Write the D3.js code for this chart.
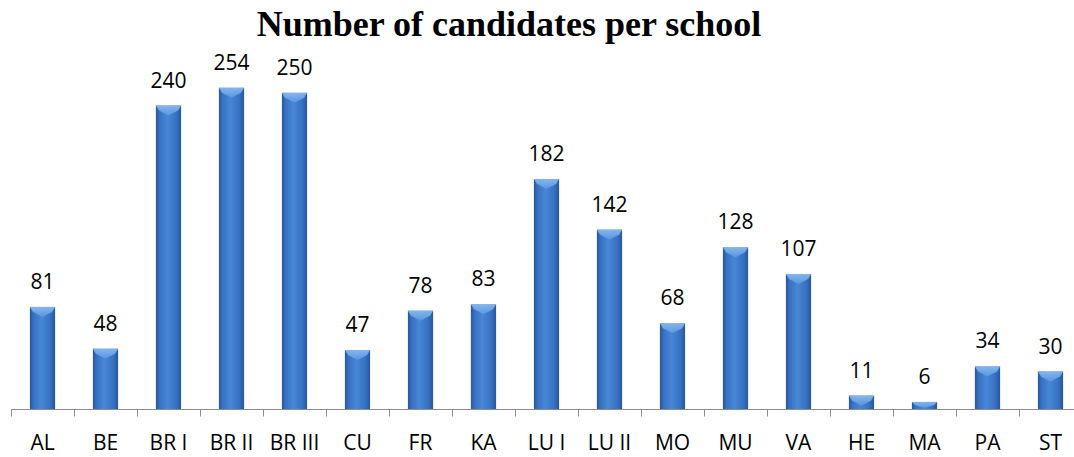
<!DOCTYPE html>
<head>
  <meta charset="utf-8">
  <script src="https://d3js.org/d3.v7.min.js"></script>
  <style>
    body { margin: 0; background: #fff; }
    .title { font-family: "Liberation Serif", "Times New Roman", serif; font-weight: bold; font-size: 36px; }
    .lbl { font-family: "Open Sans", sans-serif; font-size: 21px; fill: #000; }
  </style>
</head>
<body>
  <script>
    // categories and values
    var schools = ['AL', 'BE', 'BR I', 'BR II', 'BR III', 'CU', 'FR', 'KA', 'LU I', 'LU II',
                   'MO', 'MU', 'VA', 'HE', 'MA', 'PA', 'ST'];
    var candidates = [81, 48, 240, 254, 250, 47, 78, 83, 182, 142, 68, 128, 107, 11, 6, 34, 30];

    var outerWidth = 1074,
      outerHeight = 457;

    var rows = schools.map(function(s, i) { return { name: s, value: candidates[i] }; });

    // band scale runs a bit past the right edge like the original
    var xScale = d3.scaleBand()
      .domain(schools)
      .range([11, 11 + 63 * schools.length])
      .paddingInner(0.6)
      .paddingOuter(0.3);

    var yScale = d3.scaleLinear()
      .domain([0, 300])
      .range([409.5, 29.5]);

    var svg = d3.select("body")
      .append("svg")
      .attr("width", outerWidth)
      .attr("height", outerHeight);

    var defs = svg.append("defs");
    var grad = defs.append("linearGradient").attr("id", "barGrad")
      .attr("x1", "0").attr("x2", "1").attr("y1", "0").attr("y2", "0");
    [[0, '#285698'], [0.15, '#3872c2'], [0.45, '#4886d6'], [0.8, '#3872c2'], [1, '#28569a']]
      .forEach(function(s) { grad.append("stop").attr("offset", s[0]).attr("stop-color", s[1]); });

    var capGrad = defs.append("linearGradient").attr("id", "capGrad")
      .attr("x1", "0").attr("x2", "0").attr("y1", "0").attr("y2", "1");
    [[0, '#8cbcf0'], [1, '#5a98e0']]
      .forEach(function(s) { capGrad.append("stop").attr("offset", s[0]).attr("stop-color", s[1]); });

    // title
    svg.append("text")
      .attr("class", "title")
      .attr("x", 509)
      .attr("y", 36)
      .attr("text-anchor", "middle")
      .text("Number of candidates per school");

    var bars = svg.selectAll("g.bar")
      .data(rows)
      .enter()
      .append("g")
      .attr("class", "bar");

    bars.append("rect")
      .attr("x", function(d) { return xScale(d.name); })
      .attr("y", function(d) { return yScale(d.value); })
      .attr("width", xScale.bandwidth())
      .attr("height", function(d) { return yScale(0) - yScale(d.value); })
      .attr("fill", "url(#barGrad)");

    // lighter bevel on top of each bar
    bars.append("path")
      .attr("fill", "url(#capGrad)")
      .attr("opacity", 0.9)
      .attr("d", function(d) {
        var x0 = xScale(d.name), w = xScale.bandwidth(), top = yScale(d.value);
        var depth = Math.min(10, (yScale(0) - top) * 0.8);
        return "M" + x0 + "," + top + "L" + (x0 + w) + "," + top +
          "L" + (x0 + w - 3) + "," + (top + depth * 0.5) +
          "L" + (x0 + w / 2) + "," + (top + depth) +
          "L" + (x0 + 3) + "," + (top + depth * 0.5) + "Z";
      });

    // value labels
    bars.append("text")
      .attr("class", "lbl")
      .attr("text-anchor", "middle")
      .attr("x", function(d) { return xScale(d.name) + xScale.bandwidth() / 2; })
      .attr("y", function(d) { return yScale(d.value) - 18; })
      .text(function(d) { return d.value; });

    // x axis with ticks at the category boundaries
    var axis = svg.append("g");
    axis.append("line")
      .attr("x1", 11).attr("x2", outerWidth)
      .attr("y1", 409.5).attr("y2", 409.5)
      .attr("stroke", "#8c8c8c");

    var step = xScale.step();
    axis.selectAll("line.tick")
      .data(d3.range(schools.length + 1))
      .enter()
      .append("line")
      .attr("x1", function(i) { return 11.5 + i * step; })
      .attr("x2", function(i) { return 11.5 + i * step; })
      .attr("y1", 409.5).attr("y2", 416.5)
      .attr("stroke", "#8c8c8c");

    axis.selectAll("text")
      .data(schools)
      .enter()
      .append("text")
      .attr("class", "lbl")
      .attr("text-anchor", "middle")
      .attr("x", function(d) { return xScale(d) + xScale.bandwidth() / 2; })
      .attr("y", 450)
      .text(function(d) { return d; });
  </script>
</body>
